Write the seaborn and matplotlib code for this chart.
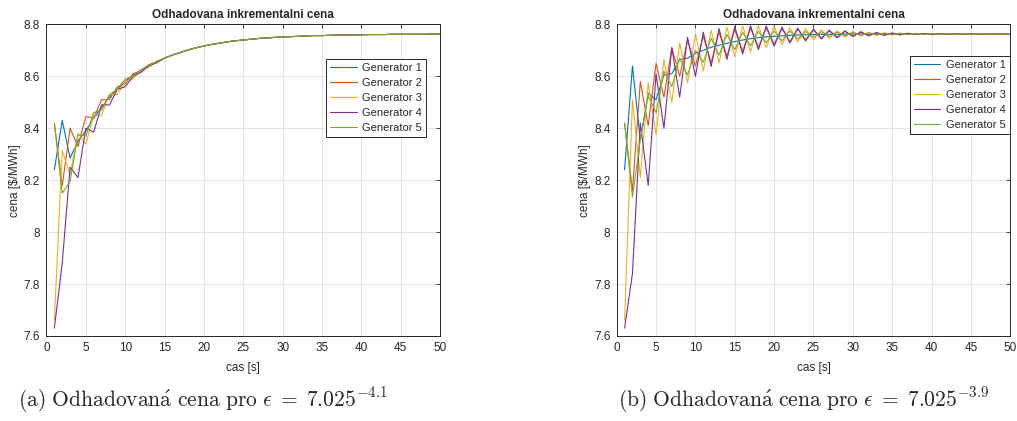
import pandas as pd
import matplotlib
matplotlib.use("Agg")
import matplotlib.pyplot as plt
import seaborn as sns

# casova osa (iterace)
cas = list(range(1, 51))

generatory = ['Generator 1', 'Generator 2', 'Generator 3', 'Generator 4', 'Generator 5']
barvy = ['#0072BD', '#D95319', '#EDB120', '#7E2F8E', '#77AC30']

y_ticks = [7.6, 7.8, 8.0, 8.2, 8.4, 8.6, 8.8]
y_tick_labels = ['7.6', '7.8', '8', '8.2', '8.4', '8.6', '8.8']
x_ticks = [0, 5, 10, 15, 20, 25, 30, 35, 40, 45, 50]

nadpis = 'Odhadovana inkrementalni cena'
popisky = [r'$\mathrm{(a)\ Odhadovan\acute{a}\ cena\ pro\ }\epsilon\;=\;7.025^{-4.1}$',
           r'$\mathrm{(b)\ Odhadovan\acute{a}\ cena\ pro\ }\epsilon\;=\;7.025^{-3.9}$']

# (a) eps = 7.025^-4.1 -- od t=15 jsou vsechny generatory stejne
konec_a = [8.670, 8.682, 8.692, 8.702, 8.710, 8.717, 8.723, 8.728, 8.733, 8.737,
           8.740, 8.743, 8.746, 8.748, 8.750, 8.752, 8.753, 8.754, 8.756, 8.757,
           8.757, 8.758, 8.759, 8.759, 8.760, 8.760, 8.761, 8.761, 8.761, 8.762,
           8.762, 8.762, 8.762, 8.762, 8.763, 8.763]
gen1_a = [8.24, 8.43, 8.285, 8.35, 8.39, 8.44, 8.48, 8.52, 8.55, 8.58, 8.605, 8.625, 8.643, 8.657] + konec_a
gen2_a = [8.42, 8.18, 8.40, 8.33, 8.445, 8.44, 8.51, 8.51, 8.56, 8.57, 8.61, 8.62, 8.645, 8.656] + konec_a
gen3_a = [7.66, 8.315, 8.22, 8.38, 8.34, 8.45, 8.45, 8.53, 8.53, 8.58, 8.59, 8.625, 8.635, 8.658] + konec_a
gen4_a = [7.63, 7.88, 8.25, 8.21, 8.40, 8.385, 8.49, 8.49, 8.55, 8.56, 8.60, 8.615, 8.64, 8.652] + konec_a
gen5_a = [8.42, 8.15, 8.195, 8.375, 8.37, 8.46, 8.47, 8.53, 8.55, 8.59, 8.60, 8.625, 8.642, 8.657] + konec_a

# (b) eps = 7.025^-3.9 -- oscilace
gen1_b = [8.24, 8.64, 8.355, 8.535, 8.51, 8.605, 8.61, 8.665, 8.67, 8.69,
          8.700, 8.712, 8.720, 8.727, 8.734, 8.740, 8.745, 8.749, 8.752, 8.754,
          8.756, 8.758, 8.759, 8.760, 8.761, 8.762, 8.762, 8.762, 8.763, 8.763,
          8.763, 8.763, 8.763, 8.763, 8.763, 8.763, 8.763, 8.763, 8.763, 8.763,
          8.763, 8.763, 8.763, 8.763, 8.763, 8.763, 8.763, 8.763, 8.763, 8.763]
gen2_b = [8.42, 8.16, 8.58, 8.41, 8.65, 8.52, 8.71, 8.60, 8.74, 8.64,
          8.755, 8.652, 8.771, 8.677, 8.780, 8.697, 8.785, 8.712, 8.786, 8.724,
          8.783, 8.734, 8.781, 8.741, 8.778, 8.748, 8.775, 8.751, 8.773, 8.755,
          8.770, 8.757, 8.768, 8.759, 8.766, 8.760, 8.765, 8.761, 8.765, 8.762,
          8.764, 8.762, 8.764, 8.763, 8.763, 8.763, 8.763, 8.763, 8.763, 8.763]
gen3_b = [7.66, 8.51, 8.21, 8.575, 8.375, 8.665, 8.50, 8.73, 8.575, 8.763,
          8.620, 8.778, 8.652, 8.789, 8.676, 8.794, 8.695, 8.795, 8.710, 8.792,
          8.722, 8.788, 8.732, 8.784, 8.740, 8.780, 8.746, 8.776, 8.751, 8.773,
          8.755, 8.770, 8.757, 8.768, 8.759, 8.767, 8.760, 8.766, 8.761, 8.765,
          8.762, 8.764, 8.762, 8.764, 8.762, 8.764, 8.763, 8.763, 8.763, 8.763]
gen4_b = [7.63, 7.84, 8.42, 8.18, 8.61, 8.40, 8.71, 8.52, 8.75, 8.60,
          8.770, 8.638, 8.784, 8.665, 8.792, 8.686, 8.795, 8.703, 8.794, 8.716,
          8.790, 8.728, 8.786, 8.736, 8.782, 8.744, 8.778, 8.748, 8.775, 8.753,
          8.772, 8.756, 8.769, 8.758, 8.767, 8.760, 8.766, 8.761, 8.765, 8.761,
          8.764, 8.762, 8.764, 8.762, 8.764, 8.762, 8.763, 8.763, 8.763, 8.763]
gen5_b = [8.42, 8.135, 8.355, 8.525, 8.46, 8.62, 8.56, 8.67, 8.605, 8.70,
          8.654, 8.747, 8.682, 8.761, 8.702, 8.770, 8.718, 8.774, 8.729, 8.775,
          8.737, 8.775, 8.744, 8.773, 8.750, 8.772, 8.753, 8.770, 8.756, 8.769,
          8.758, 8.767, 8.760, 8.766, 8.761, 8.765, 8.761, 8.764, 8.762, 8.764,
          8.762, 8.764, 8.763, 8.763, 8.763, 8.763, 8.763, 8.763, 8.763, 8.763]


def dlouha_tabulka(serie):
    radky = []
    for jmeno, hodnoty in zip(generatory, serie):
        for t, v in zip(cas, hodnoty):
            radky.append({'cas': t, 'cena': v, 'generator': jmeno})
    return pd.DataFrame(radky)


df_a = dlouha_tabulka([gen1_a, gen2_a, gen3_a, gen4_a, gen5_a])
df_b = dlouha_tabulka([gen1_b, gen2_b, gen3_b, gen4_b, gen5_b])

sns.set_theme(style="whitegrid")
plt.rcParams['font.family'] = ['Liberation Sans', 'DejaVu Sans']
plt.rcParams['mathtext.fontset'] = 'cm'

fig = plt.figure(figsize=(10.17, 4.21), dpi=100)
fig.patch.set_facecolor('white')

pozice = [[0.0457, 0.202, 0.387, 0.740], [0.6064, 0.202, 0.387, 0.740]]
legenda_kotva = [(0.964, 0.889), (0.998, 0.899)]
popis_x = [0.199, 0.790]

for i, df in enumerate([df_a, df_b]):
    ax = fig.add_axes(pozice[i])
    ax.set_facecolor('white')
    sns.lineplot(data=df, x='cas', y='cena', hue='generator', palette=barvy,
                 linewidth=0.8, ax=ax)
    ax.set_xlim(0, 50)
    ax.set_ylim(7.6, 8.8)
    ax.set_xticks(x_ticks)
    ax.set_yticks(y_ticks)
    ax.set_yticklabels(y_tick_labels)
    ax.grid(True, color='#e3e3e3', linewidth=0.7)
    for s in ax.spines.values():
        s.set_color('#262626')
        s.set_linewidth(0.7)
    ax.tick_params(direction='in', top=True, right=True, length=3, width=0.6,
                   labelsize=8.5, colors='#262626', pad=4.5)
    ax.set_title(nadpis, fontsize=8.5, fontweight='bold', pad=4.5)
    ax.set_xlabel('cas [s]', fontsize=8.5, color='#262626')
    ax.set_ylabel(r'cena [\$/MWh]', fontsize=8.5, color='#262626')
    ax.xaxis.set_label_coords(0.5, -0.083)
    ax.yaxis.set_label_coords(-0.066, 0.5)
    h, l = ax.get_legend_handles_labels()
    leg = ax.legend(h, l, loc='upper right', bbox_to_anchor=legenda_kotva[i],
                    fontsize=8, handlelength=2.4, labelspacing=0.45,
                    borderpad=0.35, borderaxespad=0, handletextpad=0.5,
                    fancybox=False, framealpha=1, edgecolor='#262626')
    leg.get_frame().set_linewidth(0.7)
    fig.text(popis_x[i], 0.05, popisky[i], fontsize=15.5, ha='center', va='center')

fig.savefig('out.png', dpi=100)
